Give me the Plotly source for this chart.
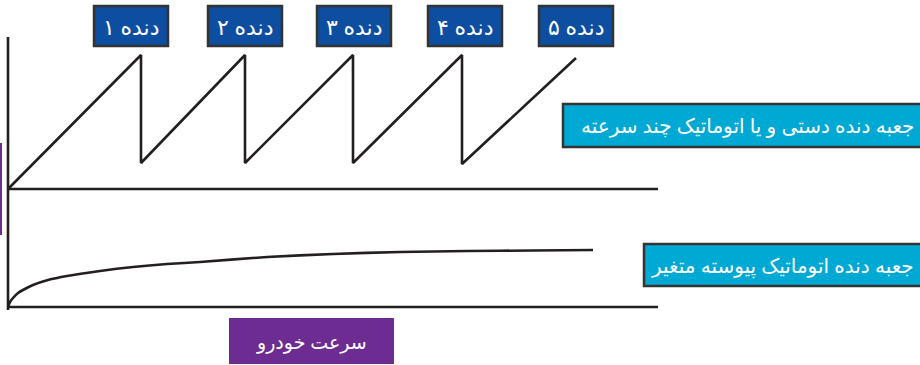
import plotly.graph_objects as go

# سرعت خودرو (محور افقی) و دور موتور برای جعبه دنده چند سرعته
manual_speed = [0, 133, 133, 237, 237, 345, 345, 454, 454, 568]
manual_rpm = [0, 134, 26, 134, 26, 134, 26, 134, 25, 131]

# جعبه دنده پیوسته متغیر
cvt_speed = [0, 2, 5, 10, 15, 25, 40, 59, 92, 125, 159, 192, 259, 325, 392, 459, 525, 585]
cvt_rpm = [0, 5, 9, 14, 17, 22, 27, 31, 36, 40, 43, 45, 50, 53, 55, 56, 56.5, 57]

gear_labels = ["دنده ۱", "دنده ۲", "دنده ۳", "دنده ۴", "دنده ۵"]
gear_centers = [131, 245, 354, 465, 576]
manual_label = "جعبه دنده دستی و یا اتوماتیک چند سرعته"
cvt_label = "جعبه دنده اتوماتیک پیوسته متغیر"
x_label = "سرعت خودرو"

# جای محورها در صفحه
x0 = 8
top_base = 189
bottom_base = 307

line_col = "#231f20"
font_fam = "Noto Sans, DejaVu Sans, sans-serif"

fig = go.Figure()

fig.add_trace(go.Scatter(
    x=[x0 + s for s in manual_speed], y=[top_base - r for r in manual_rpm],
    mode="lines", line=dict(color=line_col, width=2.6), hoverinfo="skip"))
fig.add_trace(go.Scatter(
    x=[x0 + s for s in cvt_speed], y=[bottom_base - r for r in cvt_rpm],
    mode="lines", line=dict(color=line_col, width=2.6, shape="spline", smoothing=0.6),
    hoverinfo="skip"))

shapes = [
    # محورها
    dict(type="line", x0=x0, x1=x0, y0=37, y1=310, line=dict(color=line_col, width=2.6)),
    dict(type="line", x0=x0, x1=658, y0=top_base, y1=top_base, line=dict(color=line_col, width=2.6)),
    dict(type="line", x0=x0, x1=658, y0=bottom_base, y1=bottom_base, line=dict(color=line_col, width=2.6)),
    # نوار بنفش سمت چپ
    dict(type="rect", x0=-5, x1=2, y0=143, y1=235, fillcolor="#6c2c91", line=dict(width=0)),
    # جعبه ها
    dict(type="rect", x0=563, x1=925, y0=104, y1=147, fillcolor="#00a9d3",
         line=dict(color="#333333", width=2.5)),
    dict(type="rect", x0=644, x1=925, y0=244, y1=286, fillcolor="#00a9d3",
         line=dict(color="#333333", width=2.5)),
    dict(type="rect", x0=229, x1=394, y0=318, y1=364, fillcolor="#6c2c91", line=dict(width=0)),
]
for c in gear_centers:
    shapes.append(dict(type="rect", x0=c - 37, x1=c + 37, y0=6, y1=46, fillcolor="#0d4ea1",
                       line=dict(color="#333333", width=2.5)))

annotations = []
for c, t in zip(gear_centers, gear_labels):
    annotations.append(dict(x=c, y=26, text=t, showarrow=False,
                            font=dict(size=22, color="white", family=font_fam)))
annotations.append(dict(x=916, y=125, text=manual_label, showarrow=False, xanchor="right",
                        font=dict(size=20, color="white", family=font_fam)))
annotations.append(dict(x=916, y=265, text=cvt_label, showarrow=False, xanchor="right",
                        font=dict(size=20, color="white", family=font_fam)))
annotations.append(dict(x=311, y=342, text=x_label, showarrow=False,
                        font=dict(size=19, color="white", family=font_fam)))

fig.update_layout(
    width=920, height=365,
    margin=dict(l=0, r=0, t=0, b=0),
    paper_bgcolor="white", plot_bgcolor="white",
    showlegend=False,
    shapes=shapes, annotations=annotations,
    xaxis=dict(range=[0, 920], visible=False, fixedrange=True),
    yaxis=dict(range=[365, 0], visible=False, fixedrange=True),
)

fig.write_html("out.html", config={"displayModeBar": False},
               post_script="document.body.style.margin='0';")
